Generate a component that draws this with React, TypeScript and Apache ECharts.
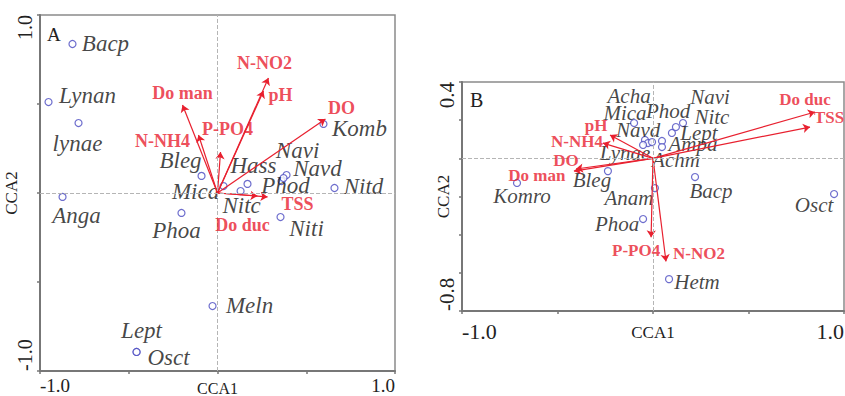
import React, { useEffect, useRef } from "react";
import * as echarts from "echarts";

// ---------- Panel A data ----------
const speciesA = ["Bacp", "Lynan", "lynae", "Anga", "Phoa", "Lept", "Osct", "Meln", "Niti", "Nitd", "Komb", "Bleg", "Mica", "Hass", "Nitc", "Phod", "Navi", "Navd"];
const spX_A = [-0.817, -0.952, -0.783, -0.873, -0.203, -0.456, -0.456, -0.028, 0.355, 0.659, 0.597, -0.09, 0.034, 0.169, 0.13, 0.361, 0.389, 0.372];
const spY_A = [0.837, 0.511, 0.393, -0.022, -0.112, -0.893, -0.893, -0.635, -0.135, 0.028, 0.388, 0.096, 0.039, 0.051, 0.011, 0.067, 0.101, 0.084];

const envA = ["Do man", "N-NH4", "P-PO4", "pH", "N-NO2", "DO", "TSS", "Do duc"];
const envX_A = [-0.197, -0.107, 0.017, 0.259, 0.287, 0.608, 0.282, 0.225];
const envY_A = [0.494, 0.326, 0.23, 0.573, 0.646, 0.416, -0.022, -0.017];

// ---------- Panel B data ----------
const speciesB = ["Komro", "Bleg", "Anam", "Phoa", "Hetm", "Osct", "Bacp", "Acha", "Mica", "Navd", "Lynae", "Phod", "Ampa", "Achm", "Lept", "Nitc", "Navi"];
const spX_B = [-0.712, -0.236, 0.01, -0.052, 0.084, 0.948, 0.22, -0.099, -0.042, -0.026, -0.052, -0.005, 0.047, 0.047, 0.099, 0.12, 0.157];
const spY_B = [-0.129, -0.067, -0.156, -0.318, -0.633, -0.187, -0.098, 0.185, 0.096, 0.08, 0.07, 0.085, 0.091, 0.059, 0.133, 0.164, 0.185];

const envB = ["pH", "N-NH4", "DO", "Do man", "Do duc", "TSS", "P-PO4", "N-NO2"];
const envX_B = [-0.225, -0.262, -0.403, -0.414, 0.848, 0.822, -0.01, 0.068];
const envY_B = [0.122, 0.08, -0.056, -0.067, 0.243, 0.164, -0.414, -0.54];

// tick labels shown on the axes
const xTicksA = [-1.0, 1.0];
const yTicksA = [-1.0, 1.0];
const xTicksB = [-1.0, 1.0];
const yTicksB = [-0.8, 0.4];

// ---------- label placement (style) ----------
const spOffA: Record<string, [number, number]> = {
  Bacp: [33, -1], Lynan: [39, -7], lynae: [-1, 20], Anga: [14, 19], Phoa: [-5, 18],
  Lept: [5, -21], Osct: [32, 6], Meln: [37, -1], Niti: [26, 11], Nitd: [29, -2],
  Komb: [36, 5], Bleg: [-21, -15], Mica: [-28, 5], Hass: [6, -18], Nitc: [1, 14],
  Phod: [4, 4], Navi: [11, -25], Navd: [34, -10],
};
const envOffA: Record<string, [number, number]> = {
  "Do man": [0, -12], "N-NH4": [-36, 6], "P-PO4": [7, -23], pH: [17, 4],
  "N-NO2": [-4, -15], DO: [16, -11], TSS: [30, 7], "Do duc": [-15, 29],
};
const spOffB: Record<string, [number, number]> = {
  Komro: [5, 13], Bleg: [-16, 9], Anam: [-26, 10], Phoa: [-26, 5], Hetm: [28, 3],
  Osct: [-20, 11], Bacp: [16, 14], Acha: [-5, -27], Mica: [-20, -27], Navd: [-10, -13],
  Lynae: [-18, 8], Phod: [16, -31], Ampa: [31, 3], Achm: [14, 13], Lept: [27, 0],
  Nitc: [36, -10], Navi: [27, -26],
};
const envOffB: Record<string, [number, number]> = {
  pH: [-14, -10], "N-NH4": [-26, -2], DO: [-10, -9], "Do man": [-37, 4],
  "Do duc": [-10, -12], TSS: [19, -10], "P-PO4": [-15, 13], "N-NO2": [33, -8],
};

const RED = "#e8202f";
const BLUE = "#4848c0";
const SERIF = "'Liberation Serif', 'Times New Roman', serif";

function near(v: number, list: number[]) {
  return list.some((t) => Math.abs(t - v) < 1e-6);
}

function makeXAxis(grid: number, ticks: number[], fontSize: number, margin: number, nameGap: number, nameSize: number) {
  return {
    type: "value",
    gridIndex: grid,
    min: -1,
    max: 1,
    interval: 0.5,
    splitLine: { show: false },
    axisLine: { show: true, onZero: false, lineStyle: { color: "#777", width: 2 } },
    axisTick: { show: true, inside: false, length: 3, lineStyle: { color: "#777", width: 1.5 } },
    axisLabel: {
      show: true,
      margin,
      fontFamily: SERIF,
      fontSize,
      color: "#222",
      alignMinLabel: "left",
      alignMaxLabel: "right",
      showMinLabel: true,
      showMaxLabel: true,
      formatter: (v: number) => (near(v, ticks) ? v.toFixed(1) : ""),
    },
    name: "CCA1",
    nameLocation: "middle",
    nameGap,
    nameMoveOverlap: false,
    nameTextStyle: { fontFamily: SERIF, fontSize: nameSize, color: "#222", verticalAlign: "top" },
  };
}

function makeYAxis(grid: number, min: number, max: number, interval: number, ticks: number[], fontSize: number, nameGap: number) {
  return {
    type: "value",
    gridIndex: grid,
    min,
    max,
    interval,
    splitLine: { show: false },
    axisLine: { show: true, onZero: false, lineStyle: { color: "#777", width: 2 } },
    axisTick: { show: true, inside: false, length: 3, lineStyle: { color: "#777", width: 1.5 } },
    axisLabel: {
      show: true,
      rotate: 90,
      margin: 5,
      fontFamily: SERIF,
      fontSize,
      color: "#222",
      alignMinLabel: "left",
      alignMaxLabel: "right",
      showMinLabel: true,
      showMaxLabel: true,
      formatter: (v: number) => (near(v, ticks) ? v.toFixed(1) : ""),
    },
    name: "CCA2",
    nameLocation: "middle",
    nameRotate: 90,
    nameGap,
    nameMoveOverlap: false,
    nameTextStyle: { fontFamily: SERIF, fontSize: 17, color: "#222" },
  };
}

function speciesSeries(idx: number, names: string[], xs: number[], ys: number[], offs: Record<string, [number, number]>, fontSize: number) {
  return {
    type: "scatter",
    xAxisIndex: idx,
    yAxisIndex: idx,
    symbol: "circle",
    symbolSize: 7,
    z: 3,
    itemStyle: { color: "#ffffff", borderColor: BLUE, borderWidth: 1.2 },
    label: {
      show: true,
      formatter: "{b}",
      position: "inside",
      align: "center",
      verticalAlign: "middle",
      fontFamily: SERIF,
      fontStyle: "italic",
      fontSize,
      color: "#151515",
      textBorderWidth: 0,
    },
    data: names.map((n, i) => ({
      name: n,
      value: [xs[i], ys[i]],
      label: { offset: offs[n] || [0, 0] },
    })),
    markLine: {
      silent: true,
      symbol: "none",
      label: { show: false },
      lineStyle: { type: "dashed", color: "#b5b5b5", width: 1 },
      data: [{ xAxis: 0 }, { yAxis: 0 }],
    },
  };
}

function arrowSeries(idx: number, names: string[], xs: number[], ys: number[]) {
  return {
    type: "lines",
    coordinateSystem: "cartesian2d",
    xAxisIndex: idx,
    yAxisIndex: idx,
    symbol: ["none", "arrow"],
    symbolSize: 7,
    z: 4,
    lineStyle: { color: RED, width: 1.2, opacity: 1, curveness: 0 },
    data: names.map((n, i) => ({ name: n, coords: [[0, 0], [xs[i], ys[i]]] })),
  };
}

function envLabelSeries(idx: number, names: string[], xs: number[], ys: number[], offs: Record<string, [number, number]>, fontSize: number) {
  return {
    type: "scatter",
    xAxisIndex: idx,
    yAxisIndex: idx,
    symbolSize: 1,
    z: 5,
    itemStyle: { color: "transparent" },
    label: {
      show: true,
      formatter: "{b}",
      position: "inside",
      align: "center",
      verticalAlign: "middle",
      fontFamily: SERIF,
      fontWeight: "bold",
      fontSize,
      color: RED,
      textBorderWidth: 0,
    },
    data: names.map((n, i) => ({
      name: n,
      value: [xs[i], ys[i]],
      label: { offset: offs[n] || [0, 0] },
    })),
  };
}

export default function App() {
  const ref = useRef<HTMLDivElement>(null);
  useEffect(() => {
    if (!ref.current) return;
    const chart = echarts.init(ref.current, null, { renderer: "svg" });
    chart.setOption({
      animation: false,
      backgroundColor: "#ffffff",
      grid: [
        { left: 40, top: 15, width: 355, height: 356, outerBoundsMode: "none", containLabel: false, show: true, borderColor: "#8a8a8a", borderWidth: 1.5, backgroundColor: "transparent" },
        { left: 462, top: 82, width: 382, height: 229, outerBoundsMode: "none", containLabel: false, show: true, borderColor: "#8a8a8a", borderWidth: 1.5, backgroundColor: "transparent" },
      ],
      xAxis: [makeXAxis(0, xTicksA, 19, 5, 9, 16), makeXAxis(1, xTicksB, 22, 9, 13, 17)],
      yAxis: [makeYAxis(0, -1, 1, 0.5, yTicksA, 20, 20), makeYAxis(1, -0.8, 0.4, 0.2, yTicksB, 21, 10)],
      graphic: [
        { type: "text", left: 47, top: 25, style: { text: "A", font: `19px ${SERIF}`, fill: "#222" } },
        { type: "text", left: 470, top: 90, style: { text: "B", font: `20px ${SERIF}`, fill: "#222" } },
      ],
      series: [
        speciesSeries(0, speciesA, spX_A, spY_A, spOffA, 23),
        arrowSeries(0, envA, envX_A, envY_A),
        envLabelSeries(0, envA, envX_A, envY_A, envOffA, 18),
        speciesSeries(1, speciesB, spX_B, spY_B, spOffB, 21),
        arrowSeries(1, envB, envX_B, envY_B),
        envLabelSeries(1, envB, envX_B, envY_B, envOffB, 17),
      ],
    });
    return () => chart.dispose();
  }, []);
  return <div ref={ref} style={{ position: "fixed", left: 0, top: 0, width: 845, height: 396 }} />;
}
